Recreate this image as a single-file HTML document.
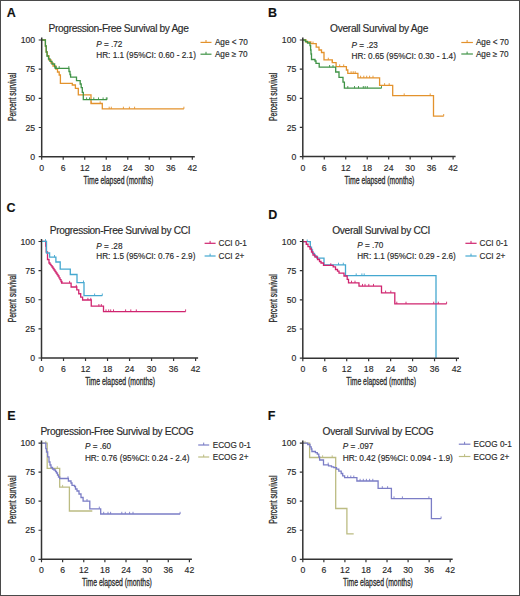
<!DOCTYPE html><html><head><meta charset="utf-8"><style>html,body{margin:0;padding:0;background:#fff;}svg{display:block;}</style></head><body>
<svg width="520" height="596" viewBox="0 0 520 596" font-family='"Liberation Sans", sans-serif'>
<style>text{stroke:#2a2a2a;stroke-width:0.15px;}</style><rect x="0" y="0" width="520" height="596" fill="#fff"/>
<rect x="0.5" y="0.5" width="519" height="595" fill="none" stroke="#4a4a4a" stroke-width="1"/>
<g><text x="6.7" y="17" font-size="12.5" font-weight="bold" fill="#111">A</text><text x="48.6" y="31.9" font-size="10.2" fill="#2a2a2a" textLength="140.2" lengthAdjust="spacing">Progression-Free Survival by Age</text><text x="96.2" y="46.9" font-size="8.2" fill="#2a2a2a"><tspan font-style="italic">P</tspan> = .72</text><text x="96.2" y="58.1" font-size="8.2" fill="#2a2a2a" textLength="99.7" lengthAdjust="spacingAndGlyphs">HR: 1.1 (95%CI: 0.60 - 2.1)</text><line x1="200.5" y1="42.4" x2="211.5" y2="42.4" stroke="#e3922c" stroke-width="1.2"/><line x1="206" y1="40" x2="206" y2="42.4" stroke="#e3922c" stroke-width="1"/><text x="214.9" y="44.8" font-size="8.2" fill="#2a2a2a">Age &lt; 70</text><line x1="200.5" y1="54.2" x2="211.5" y2="54.2" stroke="#3f9346" stroke-width="1.2"/><line x1="206" y1="51.8" x2="206" y2="54.2" stroke="#3f9346" stroke-width="1"/><text x="214.9" y="56.9" font-size="8.2" fill="#2a2a2a">Age &#8805; 70</text><path d="M41.7 40H45.4V46H46.2V52H47.3V56H49V60H51V63H53V66H55.8V69.2H57.5V72H59.2V75H60.4V83.3H72.3V85H75.4V88.3H78.3V94.8H91V103.5H102.3V108.9H183.9" fill="none" stroke="#e3922c" stroke-width="1.3" stroke-linejoin="miter" stroke-linecap="butt"/><line x1="91.3" y1="101.3" x2="91.3" y2="103.5" stroke="#e3922c" stroke-width="0.9"/><line x1="100.2" y1="101.3" x2="100.2" y2="103.5" stroke="#e3922c" stroke-width="0.9"/><line x1="109.2" y1="106.7" x2="109.2" y2="108.9" stroke="#e3922c" stroke-width="0.9"/><line x1="111.3" y1="106.7" x2="111.3" y2="108.9" stroke="#e3922c" stroke-width="0.9"/><line x1="123.4" y1="106.7" x2="123.4" y2="108.9" stroke="#e3922c" stroke-width="0.9"/><line x1="129.4" y1="106.7" x2="129.4" y2="108.9" stroke="#e3922c" stroke-width="0.9"/><line x1="134.6" y1="106.7" x2="134.6" y2="108.9" stroke="#e3922c" stroke-width="0.9"/><line x1="183.9" y1="106.7" x2="183.9" y2="108.9" stroke="#e3922c" stroke-width="0.9"/><path d="M41.7 40H45.4V46H46.2V52H47V56H48.5V59H50V61.4H52V64H54.6V66.8H55.2V68.3H69V71.5H70V74.5H70.6V77.1H76.5V80.6H80.2V84H81.2V87.7H82.3V92.3H83.3V99.6H107.1" fill="none" stroke="#3f9346" stroke-width="1.3" stroke-linejoin="miter" stroke-linecap="butt"/><line x1="56.3" y1="66.1" x2="56.3" y2="68.3" stroke="#3f9346" stroke-width="0.9"/><line x1="59.2" y1="66.1" x2="59.2" y2="68.3" stroke="#3f9346" stroke-width="0.9"/><line x1="68.8" y1="66.1" x2="68.8" y2="68.3" stroke="#3f9346" stroke-width="0.9"/><line x1="86.6" y1="97.4" x2="86.6" y2="99.6" stroke="#3f9346" stroke-width="0.9"/><line x1="89.5" y1="97.4" x2="89.5" y2="99.6" stroke="#3f9346" stroke-width="0.9"/><line x1="93.8" y1="97.4" x2="93.8" y2="99.6" stroke="#3f9346" stroke-width="0.9"/><line x1="98.5" y1="97.4" x2="98.5" y2="99.6" stroke="#3f9346" stroke-width="0.9"/><line x1="103.1" y1="97.4" x2="103.1" y2="99.6" stroke="#3f9346" stroke-width="0.9"/><line x1="106.3" y1="97.4" x2="106.3" y2="99.6" stroke="#3f9346" stroke-width="0.9"/><line x1="107.1" y1="97.4" x2="107.1" y2="99.6" stroke="#3f9346" stroke-width="0.9"/><path d="M41.7 37.5V156.7H194.8" fill="none" stroke="#333" stroke-width="1.5"/><path d="M38.7 156.7H41.7M38.7 127.52H41.7M38.7 98.35H41.7M38.7 69.17H41.7M38.7 40H41.7M41.7 156.7V159.7M63.21 156.7V159.7M84.73 156.7V159.7M106.24 156.7V159.7M127.76 156.7V159.7M149.27 156.7V159.7M170.79 156.7V159.7M192.3 156.7V159.7" stroke="#333" stroke-width="1.2" fill="none"/><text x="35.2" y="159.8" font-size="8.7" fill="#2a2a2a" text-anchor="end">0</text><text x="35.2" y="130.62" font-size="8.7" fill="#2a2a2a" text-anchor="end">25</text><text x="35.2" y="101.45" font-size="8.7" fill="#2a2a2a" text-anchor="end">50</text><text x="35.2" y="72.27" font-size="8.7" fill="#2a2a2a" text-anchor="end">75</text><text x="35.2" y="43.1" font-size="8.7" fill="#2a2a2a" text-anchor="end">100</text><text x="41.7" y="170.6" font-size="8.7" fill="#2a2a2a" text-anchor="middle">0</text><text x="63.21" y="170.6" font-size="8.7" fill="#2a2a2a" text-anchor="middle">6</text><text x="84.73" y="170.6" font-size="8.7" fill="#2a2a2a" text-anchor="middle">12</text><text x="106.24" y="170.6" font-size="8.7" fill="#2a2a2a" text-anchor="middle">18</text><text x="127.76" y="170.6" font-size="8.7" fill="#2a2a2a" text-anchor="middle">24</text><text x="149.27" y="170.6" font-size="8.7" fill="#2a2a2a" text-anchor="middle">30</text><text x="170.79" y="170.6" font-size="8.7" fill="#2a2a2a" text-anchor="middle">36</text><text x="192.3" y="170.6" font-size="8.7" fill="#2a2a2a" text-anchor="middle">42</text><text x="118.5" y="183.8" font-size="10.2" fill="#2a2a2a" style="stroke-width:0.3px" text-anchor="middle" textLength="69.8" lengthAdjust="spacingAndGlyphs">Time elapsed (months)</text><text transform="translate(15.7 96.85) rotate(-90)" x="0" y="0" font-size="10.2" fill="#2a2a2a" style="stroke-width:0.3px" text-anchor="middle" textLength="48.2" lengthAdjust="spacingAndGlyphs">Percent survival</text></g>
<g><text x="268.1" y="17" font-size="12.5" font-weight="bold" fill="#111">B</text><text x="330.1" y="32.3" font-size="10.2" fill="#2a2a2a" textLength="98.2" lengthAdjust="spacing">Overall Survival by Age</text><text x="351.6" y="47.5" font-size="8.2" fill="#2a2a2a"><tspan font-style="italic">P</tspan> = .23</text><text x="351.6" y="58.7" font-size="8.2" fill="#2a2a2a" textLength="104.3" lengthAdjust="spacingAndGlyphs">HR: 0.65 (95%CI: 0.30 - 1.4)</text><line x1="461.3" y1="42.5" x2="472.9" y2="42.5" stroke="#e3922c" stroke-width="1.2"/><line x1="467.1" y1="40.1" x2="467.1" y2="42.5" stroke="#e3922c" stroke-width="1"/><text x="475.9" y="45.4" font-size="8.2" fill="#2a2a2a">Age &lt; 70</text><line x1="461.3" y1="54" x2="472.9" y2="54" stroke="#3f9346" stroke-width="1.2"/><line x1="467.1" y1="51.6" x2="467.1" y2="54" stroke="#3f9346" stroke-width="1"/><text x="475.9" y="56.9" font-size="8.2" fill="#2a2a2a">Age &#8805; 70</text><path d="M302.8 40H306V42H310.8V43.7H316.2V47.1H319V50H321.5V52.5H324V59.9H332.3V62.6H336.1V66.6H346.4V70H347.8V73.4H357.9V77.9H379.6V85.4H392.7V95.6H433.5V116.2H443.7" fill="none" stroke="#e3922c" stroke-width="1.3" stroke-linejoin="miter" stroke-linecap="butt"/><line x1="313" y1="41.5" x2="313" y2="43.7" stroke="#e3922c" stroke-width="0.9"/><line x1="328.3" y1="57.7" x2="328.3" y2="59.9" stroke="#e3922c" stroke-width="0.9"/><line x1="332.3" y1="60.4" x2="332.3" y2="62.6" stroke="#e3922c" stroke-width="0.9"/><line x1="339.7" y1="64.4" x2="339.7" y2="66.6" stroke="#e3922c" stroke-width="0.9"/><line x1="343.7" y1="64.4" x2="343.7" y2="66.6" stroke="#e3922c" stroke-width="0.9"/><line x1="351.1" y1="71.2" x2="351.1" y2="73.4" stroke="#e3922c" stroke-width="0.9"/><line x1="353.2" y1="71.2" x2="353.2" y2="73.4" stroke="#e3922c" stroke-width="0.9"/><line x1="355.2" y1="71.2" x2="355.2" y2="73.4" stroke="#e3922c" stroke-width="0.9"/><line x1="360.6" y1="75.7" x2="360.6" y2="77.9" stroke="#e3922c" stroke-width="0.9"/><line x1="363.8" y1="75.7" x2="363.8" y2="77.9" stroke="#e3922c" stroke-width="0.9"/><line x1="366.7" y1="75.7" x2="366.7" y2="77.9" stroke="#e3922c" stroke-width="0.9"/><line x1="369.6" y1="75.7" x2="369.6" y2="77.9" stroke="#e3922c" stroke-width="0.9"/><line x1="373" y1="75.7" x2="373" y2="77.9" stroke="#e3922c" stroke-width="0.9"/><line x1="384.6" y1="83.2" x2="384.6" y2="85.4" stroke="#e3922c" stroke-width="0.9"/><line x1="389.2" y1="83.2" x2="389.2" y2="85.4" stroke="#e3922c" stroke-width="0.9"/><line x1="404.2" y1="93.4" x2="404.2" y2="95.6" stroke="#e3922c" stroke-width="0.9"/><line x1="430.2" y1="93.4" x2="430.2" y2="95.6" stroke="#e3922c" stroke-width="0.9"/><line x1="443.7" y1="114" x2="443.7" y2="116.2" stroke="#e3922c" stroke-width="0.9"/><path d="M302.8 40H305.4V41.5H307.5V43H310V45.6H310.6V50H311V54H311.5V59.5H315V61H316V63.3H319.2V67.2H335.7V72H339V77.4H343V82.1H344.4V88.2H381.5" fill="none" stroke="#3f9346" stroke-width="1.3" stroke-linejoin="miter" stroke-linecap="butt"/><line x1="329.6" y1="65" x2="329.6" y2="67.2" stroke="#3f9346" stroke-width="0.9"/><line x1="333" y1="65" x2="333" y2="67.2" stroke="#3f9346" stroke-width="0.9"/><line x1="347.8" y1="86" x2="347.8" y2="88.2" stroke="#3f9346" stroke-width="0.9"/><line x1="354.5" y1="86" x2="354.5" y2="88.2" stroke="#3f9346" stroke-width="0.9"/><line x1="358.5" y1="86" x2="358.5" y2="88.2" stroke="#3f9346" stroke-width="0.9"/><line x1="363.3" y1="86" x2="363.3" y2="88.2" stroke="#3f9346" stroke-width="0.9"/><line x1="365.2" y1="86" x2="365.2" y2="88.2" stroke="#3f9346" stroke-width="0.9"/><line x1="367.3" y1="86" x2="367.3" y2="88.2" stroke="#3f9346" stroke-width="0.9"/><line x1="381.5" y1="86" x2="381.5" y2="88.2" stroke="#3f9346" stroke-width="0.9"/><path d="M302.8 37.5V156.6H455.6" fill="none" stroke="#333" stroke-width="1.5"/><path d="M299.8 156.6H302.8M299.8 127.45H302.8M299.8 98.3H302.8M299.8 69.15H302.8M299.8 40H302.8M302.8 156.6V159.6M324.27 156.6V159.6M345.74 156.6V159.6M367.21 156.6V159.6M388.69 156.6V159.6M410.16 156.6V159.6M431.63 156.6V159.6M453.1 156.6V159.6" stroke="#333" stroke-width="1.2" fill="none"/><text x="296.3" y="159.7" font-size="8.7" fill="#2a2a2a" text-anchor="end">0</text><text x="296.3" y="130.55" font-size="8.7" fill="#2a2a2a" text-anchor="end">25</text><text x="296.3" y="101.4" font-size="8.7" fill="#2a2a2a" text-anchor="end">50</text><text x="296.3" y="72.25" font-size="8.7" fill="#2a2a2a" text-anchor="end">75</text><text x="296.3" y="43.1" font-size="8.7" fill="#2a2a2a" text-anchor="end">100</text><text x="302.8" y="170.5" font-size="8.7" fill="#2a2a2a" text-anchor="middle">0</text><text x="324.27" y="170.5" font-size="8.7" fill="#2a2a2a" text-anchor="middle">6</text><text x="345.74" y="170.5" font-size="8.7" fill="#2a2a2a" text-anchor="middle">12</text><text x="367.21" y="170.5" font-size="8.7" fill="#2a2a2a" text-anchor="middle">18</text><text x="388.69" y="170.5" font-size="8.7" fill="#2a2a2a" text-anchor="middle">24</text><text x="410.16" y="170.5" font-size="8.7" fill="#2a2a2a" text-anchor="middle">30</text><text x="431.63" y="170.5" font-size="8.7" fill="#2a2a2a" text-anchor="middle">36</text><text x="453.1" y="170.5" font-size="8.7" fill="#2a2a2a" text-anchor="middle">42</text><text x="379.45" y="183.7" font-size="10.2" fill="#2a2a2a" style="stroke-width:0.3px" text-anchor="middle" textLength="69.8" lengthAdjust="spacingAndGlyphs">Time elapsed (months)</text><text transform="translate(276.8 96.8) rotate(-90)" x="0" y="0" font-size="10.2" fill="#2a2a2a" style="stroke-width:0.3px" text-anchor="middle" textLength="48.2" lengthAdjust="spacingAndGlyphs">Percent survival</text></g>
<g><text x="6.6" y="212.3" font-size="12.5" font-weight="bold" fill="#111">C</text><text x="49.7" y="233.5" font-size="10.2" fill="#2a2a2a" textLength="140.8" lengthAdjust="spacing">Progression-Free Survival by CCI</text><text x="96.3" y="248.5" font-size="8.2" fill="#2a2a2a"><tspan font-style="italic">P</tspan> = .28</text><text x="96.3" y="258.8" font-size="8.2" fill="#2a2a2a" textLength="99.1" lengthAdjust="spacingAndGlyphs">HR: 1.5 (95%CI: 0.76 - 2.9)</text><line x1="204.6" y1="243.3" x2="215.6" y2="243.3" stroke="#d0246f" stroke-width="1.2"/><line x1="210.1" y1="240.9" x2="210.1" y2="243.3" stroke="#d0246f" stroke-width="1"/><text x="218.5" y="246.4" font-size="8.2" fill="#2a2a2a">CCI 0-1</text><line x1="204.6" y1="256" x2="215.6" y2="256" stroke="#45a8d0" stroke-width="1.2"/><line x1="210.1" y1="253.6" x2="210.1" y2="256" stroke="#45a8d0" stroke-width="1"/><text x="218.5" y="259.1" font-size="8.2" fill="#2a2a2a">CCI 2+</text><path d="M41.5 241.4H45.8V246H46.2V252H47.5V259.5H49V263H50V264.33H51V265.67H52V267H53V268.5H54V270H55V271.5H56V273H57V274.5H58V276H59V277.83H60V279.67H61V281.5H61.6V283.1H71.1V287H76.8V289.9H78.75V293.75H80.7V297.1H82.6V300H91.25V306.2H103.5V311.6H185.6" fill="none" stroke="#d0246f" stroke-width="1.3" stroke-linejoin="miter" stroke-linecap="butt"/><line x1="62" y1="280.9" x2="62" y2="283.1" stroke="#d0246f" stroke-width="0.9"/><line x1="69.6" y1="280.9" x2="69.6" y2="283.1" stroke="#d0246f" stroke-width="0.9"/><line x1="76.3" y1="284.8" x2="76.3" y2="287" stroke="#d0246f" stroke-width="0.9"/><line x1="87.9" y1="297.8" x2="87.9" y2="300" stroke="#d0246f" stroke-width="0.9"/><line x1="90.8" y1="297.8" x2="90.8" y2="300" stroke="#d0246f" stroke-width="0.9"/><line x1="98.9" y1="304" x2="98.9" y2="306.2" stroke="#d0246f" stroke-width="0.9"/><line x1="101.3" y1="304" x2="101.3" y2="306.2" stroke="#d0246f" stroke-width="0.9"/><line x1="106" y1="309.4" x2="106" y2="311.6" stroke="#d0246f" stroke-width="0.9"/><line x1="108.7" y1="309.4" x2="108.7" y2="311.6" stroke="#d0246f" stroke-width="0.9"/><line x1="110.7" y1="309.4" x2="110.7" y2="311.6" stroke="#d0246f" stroke-width="0.9"/><line x1="113.5" y1="309.4" x2="113.5" y2="311.6" stroke="#d0246f" stroke-width="0.9"/><line x1="125.6" y1="309.4" x2="125.6" y2="311.6" stroke="#d0246f" stroke-width="0.9"/><line x1="130.8" y1="309.4" x2="130.8" y2="311.6" stroke="#d0246f" stroke-width="0.9"/><line x1="136.3" y1="309.4" x2="136.3" y2="311.6" stroke="#d0246f" stroke-width="0.9"/><line x1="185.6" y1="309.4" x2="185.6" y2="311.6" stroke="#d0246f" stroke-width="0.9"/><path d="M41.5 241.3H46.5V253H49.6V257.2H55.9V262H60.2V269.2H70.3V274.5H77V282.7H84V295.7H102.3" fill="none" stroke="#45a8d0" stroke-width="1.3" stroke-linejoin="miter" stroke-linecap="butt"/><line x1="45.5" y1="239.1" x2="45.5" y2="241.3" stroke="#45a8d0" stroke-width="0.9"/><line x1="54.5" y1="255" x2="54.5" y2="257.2" stroke="#45a8d0" stroke-width="0.9"/><line x1="83.5" y1="280.5" x2="83.5" y2="282.7" stroke="#45a8d0" stroke-width="0.9"/><line x1="94.6" y1="293.5" x2="94.6" y2="295.7" stroke="#45a8d0" stroke-width="0.9"/><line x1="102.3" y1="293.5" x2="102.3" y2="295.7" stroke="#45a8d0" stroke-width="0.9"/><path d="M41.5 239V358H198.1" fill="none" stroke="#333" stroke-width="1.5"/><path d="M38.5 358H41.5M38.5 328.88H41.5M38.5 299.75H41.5M38.5 270.62H41.5M38.5 241.5H41.5M41.5 358V361M63.51 358V361M85.53 358V361M107.54 358V361M129.56 358V361M151.57 358V361M173.59 358V361M195.6 358V361" stroke="#333" stroke-width="1.2" fill="none"/><text x="35" y="361.1" font-size="8.7" fill="#2a2a2a" text-anchor="end">0</text><text x="35" y="331.98" font-size="8.7" fill="#2a2a2a" text-anchor="end">25</text><text x="35" y="302.85" font-size="8.7" fill="#2a2a2a" text-anchor="end">50</text><text x="35" y="273.73" font-size="8.7" fill="#2a2a2a" text-anchor="end">75</text><text x="35" y="244.6" font-size="8.7" fill="#2a2a2a" text-anchor="end">100</text><text x="41.5" y="371.9" font-size="8.7" fill="#2a2a2a" text-anchor="middle">0</text><text x="63.51" y="371.9" font-size="8.7" fill="#2a2a2a" text-anchor="middle">6</text><text x="85.53" y="371.9" font-size="8.7" fill="#2a2a2a" text-anchor="middle">12</text><text x="107.54" y="371.9" font-size="8.7" fill="#2a2a2a" text-anchor="middle">18</text><text x="129.56" y="371.9" font-size="8.7" fill="#2a2a2a" text-anchor="middle">24</text><text x="151.57" y="371.9" font-size="8.7" fill="#2a2a2a" text-anchor="middle">30</text><text x="173.59" y="371.9" font-size="8.7" fill="#2a2a2a" text-anchor="middle">36</text><text x="195.6" y="371.9" font-size="8.7" fill="#2a2a2a" text-anchor="middle">42</text><text x="120.05" y="385.1" font-size="10.2" fill="#2a2a2a" style="stroke-width:0.3px" text-anchor="middle" textLength="69.8" lengthAdjust="spacingAndGlyphs">Time elapsed (months)</text><text transform="translate(15.5 298.25) rotate(-90)" x="0" y="0" font-size="10.2" fill="#2a2a2a" style="stroke-width:0.3px" text-anchor="middle" textLength="48.2" lengthAdjust="spacingAndGlyphs">Percent survival</text></g>
<g><text x="268.3" y="218.7" font-size="12.5" font-weight="bold" fill="#111">D</text><text x="332.2" y="233.8" font-size="10.2" fill="#2a2a2a" textLength="98.2" lengthAdjust="spacing">Overall Survival by CCI</text><text x="357.2" y="247.9" font-size="8.2" fill="#2a2a2a"><tspan font-style="italic">P</tspan> = .70</text><text x="357.2" y="259.4" font-size="8.2" fill="#2a2a2a" textLength="98.6" lengthAdjust="spacingAndGlyphs">HR: 1.1 (95%CI: 0.29 - 2.6)</text><line x1="465.4" y1="243.3" x2="476.6" y2="243.3" stroke="#d0246f" stroke-width="1.2"/><line x1="471" y1="240.9" x2="471" y2="243.3" stroke="#d0246f" stroke-width="1"/><text x="479.5" y="246.4" font-size="8.2" fill="#2a2a2a">CCI 0-1</text><line x1="465.4" y1="256" x2="476.6" y2="256" stroke="#45a8d0" stroke-width="1.2"/><line x1="471" y1="253.6" x2="471" y2="256" stroke="#45a8d0" stroke-width="1"/><text x="479.5" y="259.1" font-size="8.2" fill="#2a2a2a">CCI 2+</text><path d="M302.8 241.7H310.3V247.1H311.5V250H312.5V253.4H314.5V256H316.8V258.2H324V264.9H345.5V275.6H436V358.2H436" fill="none" stroke="#45a8d0" stroke-width="1.3" stroke-linejoin="miter" stroke-linecap="butt"/><line x1="307.2" y1="239.5" x2="307.2" y2="241.7" stroke="#45a8d0" stroke-width="0.9"/><line x1="338.5" y1="262.7" x2="338.5" y2="264.9" stroke="#45a8d0" stroke-width="0.9"/><line x1="343.3" y1="262.7" x2="343.3" y2="264.9" stroke="#45a8d0" stroke-width="0.9"/><line x1="356.2" y1="273.4" x2="356.2" y2="275.6" stroke="#45a8d0" stroke-width="0.9"/><line x1="361.9" y1="273.4" x2="361.9" y2="275.6" stroke="#45a8d0" stroke-width="0.9"/><line x1="364.2" y1="273.4" x2="364.2" y2="275.6" stroke="#45a8d0" stroke-width="0.9"/><path d="M302.8 241.7H306.25V244.25H308V246.65H310V249H311.5V252H313V255H315V257H317.5V259.5H319.5V261.5H321V263H323.5V265.4H333.2V266.8H335.5V269.5H337.5V271.2H339V273.1H344V276H347.2V279.4H348.5V282.9H359V286.1H381.5V292.8H394.8V303.9H446.6" fill="none" stroke="#d0246f" stroke-width="1.3" stroke-linejoin="miter" stroke-linecap="butt"/><line x1="330.8" y1="263.2" x2="330.8" y2="265.4" stroke="#d0246f" stroke-width="0.9"/><line x1="351.5" y1="280.7" x2="351.5" y2="282.9" stroke="#d0246f" stroke-width="0.9"/><line x1="355" y1="280.7" x2="355" y2="282.9" stroke="#d0246f" stroke-width="0.9"/><line x1="362.5" y1="283.9" x2="362.5" y2="286.1" stroke="#d0246f" stroke-width="0.9"/><line x1="365" y1="283.9" x2="365" y2="286.1" stroke="#d0246f" stroke-width="0.9"/><line x1="368.8" y1="283.9" x2="368.8" y2="286.1" stroke="#d0246f" stroke-width="0.9"/><line x1="373.5" y1="283.9" x2="373.5" y2="286.1" stroke="#d0246f" stroke-width="0.9"/><line x1="385.6" y1="290.6" x2="385.6" y2="292.8" stroke="#d0246f" stroke-width="0.9"/><line x1="390.8" y1="290.6" x2="390.8" y2="292.8" stroke="#d0246f" stroke-width="0.9"/><line x1="396.8" y1="301.7" x2="396.8" y2="303.9" stroke="#d0246f" stroke-width="0.9"/><line x1="406" y1="301.7" x2="406" y2="303.9" stroke="#d0246f" stroke-width="0.9"/><line x1="433.7" y1="301.7" x2="433.7" y2="303.9" stroke="#d0246f" stroke-width="0.9"/><line x1="438.3" y1="301.7" x2="438.3" y2="303.9" stroke="#d0246f" stroke-width="0.9"/><line x1="446.6" y1="301.7" x2="446.6" y2="303.9" stroke="#d0246f" stroke-width="0.9"/><path d="M302.8 239V358.2H459" fill="none" stroke="#333" stroke-width="1.5"/><path d="M299.8 358.2H302.8M299.8 329.02H302.8M299.8 299.85H302.8M299.8 270.68H302.8M299.8 241.5H302.8M302.8 358.2V361.2M324.76 358.2V361.2M346.71 358.2V361.2M368.67 358.2V361.2M390.63 358.2V361.2M412.59 358.2V361.2M434.54 358.2V361.2M456.5 358.2V361.2" stroke="#333" stroke-width="1.2" fill="none"/><text x="296.3" y="361.3" font-size="8.7" fill="#2a2a2a" text-anchor="end">0</text><text x="296.3" y="332.12" font-size="8.7" fill="#2a2a2a" text-anchor="end">25</text><text x="296.3" y="302.95" font-size="8.7" fill="#2a2a2a" text-anchor="end">50</text><text x="296.3" y="273.78" font-size="8.7" fill="#2a2a2a" text-anchor="end">75</text><text x="296.3" y="244.6" font-size="8.7" fill="#2a2a2a" text-anchor="end">100</text><text x="302.8" y="372.1" font-size="8.7" fill="#2a2a2a" text-anchor="middle">0</text><text x="324.76" y="372.1" font-size="8.7" fill="#2a2a2a" text-anchor="middle">6</text><text x="346.71" y="372.1" font-size="8.7" fill="#2a2a2a" text-anchor="middle">12</text><text x="368.67" y="372.1" font-size="8.7" fill="#2a2a2a" text-anchor="middle">18</text><text x="390.63" y="372.1" font-size="8.7" fill="#2a2a2a" text-anchor="middle">24</text><text x="412.59" y="372.1" font-size="8.7" fill="#2a2a2a" text-anchor="middle">30</text><text x="434.54" y="372.1" font-size="8.7" fill="#2a2a2a" text-anchor="middle">36</text><text x="456.5" y="372.1" font-size="8.7" fill="#2a2a2a" text-anchor="middle">42</text><text x="381.15" y="385.3" font-size="10.2" fill="#2a2a2a" style="stroke-width:0.3px" text-anchor="middle" textLength="69.8" lengthAdjust="spacingAndGlyphs">Time elapsed (months)</text><text transform="translate(276.8 298.35) rotate(-90)" x="0" y="0" font-size="10.2" fill="#2a2a2a" style="stroke-width:0.3px" text-anchor="middle" textLength="48.2" lengthAdjust="spacingAndGlyphs">Percent survival</text></g>
<g><text x="7.2" y="419.9" font-size="12.5" font-weight="bold" fill="#111">E</text><text x="40.4" y="434.7" font-size="10.2" fill="#2a2a2a" textLength="153.3" lengthAdjust="spacing">Progression-Free Survival by ECOG</text><text x="84.9" y="449.4" font-size="8.2" fill="#2a2a2a"><tspan font-style="italic">P</tspan> = .60</text><text x="84.9" y="460.7" font-size="8.2" fill="#2a2a2a" textLength="104.5" lengthAdjust="spacingAndGlyphs">HR: 0.76 (95%CI: 0.24 - 2.4)</text><line x1="198.2" y1="445" x2="209.2" y2="445" stroke="#7b7dc6" stroke-width="1.2"/><line x1="203.7" y1="442.6" x2="203.7" y2="445" stroke="#7b7dc6" stroke-width="1"/><text x="212.7" y="447.9" font-size="8.2" fill="#2a2a2a">ECOG 0-1</text><line x1="198.2" y1="457" x2="209.2" y2="457" stroke="#bcbc82" stroke-width="1.2"/><line x1="203.7" y1="454.6" x2="203.7" y2="457" stroke="#bcbc82" stroke-width="1"/><text x="212.7" y="459.8" font-size="8.2" fill="#2a2a2a">ECOG 2+</text><path d="M41.5 443.1H47.2V468.4H59.7V487.1H69.4V511H92.3" fill="none" stroke="#bcbc82" stroke-width="1.3" stroke-linejoin="miter" stroke-linecap="butt"/><line x1="45.8" y1="440.9" x2="45.8" y2="443.1" stroke="#bcbc82" stroke-width="0.9"/><line x1="57.3" y1="466.2" x2="57.3" y2="468.4" stroke="#bcbc82" stroke-width="0.9"/><line x1="62.6" y1="484.9" x2="62.6" y2="487.1" stroke="#bcbc82" stroke-width="0.9"/><path d="M41.5 443.1H45.8V448.7H46.5V452H47.7V456.8H49V462H50V465H51V467.5H52.5V469H54V470H55.5V471.5H56.5V473H57.5V475H58.5V477H59.7V478.5H68.4V481H71V483H72V485.3H74.5V486.5H75.5V489H77V491H79V494H81V497.5H83.1V501.2H89.8V508.8H100.7V514H180.1" fill="none" stroke="#7b7dc6" stroke-width="1.3" stroke-linejoin="miter" stroke-linecap="butt"/><line x1="68" y1="476.3" x2="68" y2="478.5" stroke="#7b7dc6" stroke-width="0.9"/><line x1="87" y1="499" x2="87" y2="501.2" stroke="#7b7dc6" stroke-width="0.9"/><line x1="99.3" y1="506.6" x2="99.3" y2="508.8" stroke="#7b7dc6" stroke-width="0.9"/><line x1="103.7" y1="511.8" x2="103.7" y2="514" stroke="#7b7dc6" stroke-width="0.9"/><line x1="108" y1="511.8" x2="108" y2="514" stroke="#7b7dc6" stroke-width="0.9"/><line x1="110.6" y1="511.8" x2="110.6" y2="514" stroke="#7b7dc6" stroke-width="0.9"/><line x1="121.8" y1="511.8" x2="121.8" y2="514" stroke="#7b7dc6" stroke-width="0.9"/><line x1="125.3" y1="511.8" x2="125.3" y2="514" stroke="#7b7dc6" stroke-width="0.9"/><line x1="129.6" y1="511.8" x2="129.6" y2="514" stroke="#7b7dc6" stroke-width="0.9"/><line x1="133" y1="511.8" x2="133" y2="514" stroke="#7b7dc6" stroke-width="0.9"/><line x1="180.1" y1="511.8" x2="180.1" y2="514" stroke="#7b7dc6" stroke-width="0.9"/><path d="M41.5 440.6V559.3H191.9" fill="none" stroke="#333" stroke-width="1.5"/><path d="M38.5 559.3H41.5M38.5 530.25H41.5M38.5 501.2H41.5M38.5 472.15H41.5M38.5 443.1H41.5M41.5 559.3V562.3M62.63 559.3V562.3M83.76 559.3V562.3M104.89 559.3V562.3M126.01 559.3V562.3M147.14 559.3V562.3M168.27 559.3V562.3M189.4 559.3V562.3" stroke="#333" stroke-width="1.2" fill="none"/><text x="35" y="562.4" font-size="8.7" fill="#2a2a2a" text-anchor="end">0</text><text x="35" y="533.35" font-size="8.7" fill="#2a2a2a" text-anchor="end">25</text><text x="35" y="504.3" font-size="8.7" fill="#2a2a2a" text-anchor="end">50</text><text x="35" y="475.25" font-size="8.7" fill="#2a2a2a" text-anchor="end">75</text><text x="35" y="446.2" font-size="8.7" fill="#2a2a2a" text-anchor="end">100</text><text x="41.5" y="573.2" font-size="8.7" fill="#2a2a2a" text-anchor="middle">0</text><text x="62.63" y="573.2" font-size="8.7" fill="#2a2a2a" text-anchor="middle">6</text><text x="83.76" y="573.2" font-size="8.7" fill="#2a2a2a" text-anchor="middle">12</text><text x="104.89" y="573.2" font-size="8.7" fill="#2a2a2a" text-anchor="middle">18</text><text x="126.01" y="573.2" font-size="8.7" fill="#2a2a2a" text-anchor="middle">24</text><text x="147.14" y="573.2" font-size="8.7" fill="#2a2a2a" text-anchor="middle">30</text><text x="168.27" y="573.2" font-size="8.7" fill="#2a2a2a" text-anchor="middle">36</text><text x="189.4" y="573.2" font-size="8.7" fill="#2a2a2a" text-anchor="middle">42</text><text x="116.95" y="586.4" font-size="10.2" fill="#2a2a2a" style="stroke-width:0.3px" text-anchor="middle" textLength="69.8" lengthAdjust="spacingAndGlyphs">Time elapsed (months)</text><text transform="translate(15.5 499.7) rotate(-90)" x="0" y="0" font-size="10.2" fill="#2a2a2a" style="stroke-width:0.3px" text-anchor="middle" textLength="48.2" lengthAdjust="spacingAndGlyphs">Percent survival</text></g>
<g><text x="267.8" y="419.9" font-size="12.5" font-weight="bold" fill="#111">F</text><text x="322.5" y="434.7" font-size="10.2" fill="#2a2a2a" textLength="111.3" lengthAdjust="spacing">Overall Survival by ECOG</text><text x="342.7" y="449.4" font-size="8.2" fill="#2a2a2a"><tspan font-style="italic">P</tspan> = .097</text><text x="342.7" y="460.7" font-size="8.2" fill="#2a2a2a" textLength="110.2" lengthAdjust="spacingAndGlyphs">HR: 0.42 (95%CI: 0.094 - 1.9)</text><line x1="458.8" y1="444.2" x2="470.4" y2="444.2" stroke="#7b7dc6" stroke-width="1.2"/><line x1="464.6" y1="441.8" x2="464.6" y2="444.2" stroke="#7b7dc6" stroke-width="1"/><text x="473.5" y="447.4" font-size="8.2" fill="#2a2a2a">ECOG 0-1</text><line x1="458.8" y1="456.5" x2="470.4" y2="456.5" stroke="#bcbc82" stroke-width="1.2"/><line x1="464.6" y1="454.1" x2="464.6" y2="456.5" stroke="#bcbc82" stroke-width="1"/><text x="473.5" y="459.6" font-size="8.2" fill="#2a2a2a">ECOG 2+</text><path d="M302.8 443.1H309.6V457.5H335.7V508.5H346.9V533.8H353.7" fill="none" stroke="#bcbc82" stroke-width="1.3" stroke-linejoin="miter" stroke-linecap="butt"/><line x1="305" y1="440.9" x2="305" y2="443.1" stroke="#bcbc82" stroke-width="0.9"/><line x1="322.6" y1="455.3" x2="322.6" y2="457.5" stroke="#bcbc82" stroke-width="0.9"/><line x1="332.2" y1="455.3" x2="332.2" y2="457.5" stroke="#bcbc82" stroke-width="0.9"/><path d="M302.8 443.1H307.7V444.5H310V446.8H311.2V449H311.9V451.5H315.4V452.6H317.3V454.2H318.8V456.8H319.6V460H323.5V464.8H328.5V465.8H331.5V466.9H333.8V467.7H336.5V469.2H338.8V471.2H341.2V473.5H342.7V475.8H344.6V477.7H356.9V481H378.1V488.4H391.4V498.6H431.4V518.7H441.1" fill="none" stroke="#7b7dc6" stroke-width="1.3" stroke-linejoin="miter" stroke-linecap="butt"/><line x1="328.2" y1="462.6" x2="328.2" y2="464.8" stroke="#7b7dc6" stroke-width="0.9"/><line x1="347.7" y1="475.5" x2="347.7" y2="477.7" stroke="#7b7dc6" stroke-width="0.9"/><line x1="350.8" y1="475.5" x2="350.8" y2="477.7" stroke="#7b7dc6" stroke-width="0.9"/><line x1="353.8" y1="475.5" x2="353.8" y2="477.7" stroke="#7b7dc6" stroke-width="0.9"/><line x1="360.1" y1="478.8" x2="360.1" y2="481" stroke="#7b7dc6" stroke-width="0.9"/><line x1="363.3" y1="478.8" x2="363.3" y2="481" stroke="#7b7dc6" stroke-width="0.9"/><line x1="366.4" y1="478.8" x2="366.4" y2="481" stroke="#7b7dc6" stroke-width="0.9"/><line x1="369.6" y1="478.8" x2="369.6" y2="481" stroke="#7b7dc6" stroke-width="0.9"/><line x1="372.8" y1="478.8" x2="372.8" y2="481" stroke="#7b7dc6" stroke-width="0.9"/><line x1="382.3" y1="486.2" x2="382.3" y2="488.4" stroke="#7b7dc6" stroke-width="0.9"/><line x1="387.6" y1="486.2" x2="387.6" y2="488.4" stroke="#7b7dc6" stroke-width="0.9"/><line x1="394" y1="496.4" x2="394" y2="498.6" stroke="#7b7dc6" stroke-width="0.9"/><line x1="402.4" y1="496.4" x2="402.4" y2="498.6" stroke="#7b7dc6" stroke-width="0.9"/><line x1="428.9" y1="496.4" x2="428.9" y2="498.6" stroke="#7b7dc6" stroke-width="0.9"/><line x1="441.1" y1="516.5" x2="441.1" y2="518.7" stroke="#7b7dc6" stroke-width="0.9"/><path d="M302.8 440.6V559.3H452.7" fill="none" stroke="#333" stroke-width="1.5"/><path d="M299.8 559.3H302.8M299.8 530.25H302.8M299.8 501.2H302.8M299.8 472.15H302.8M299.8 443.1H302.8M302.8 559.3V562.3M323.86 559.3V562.3M344.91 559.3V562.3M365.97 559.3V562.3M387.03 559.3V562.3M408.09 559.3V562.3M429.14 559.3V562.3M450.2 559.3V562.3" stroke="#333" stroke-width="1.2" fill="none"/><text x="296.3" y="562.4" font-size="8.7" fill="#2a2a2a" text-anchor="end">0</text><text x="296.3" y="533.35" font-size="8.7" fill="#2a2a2a" text-anchor="end">25</text><text x="296.3" y="504.3" font-size="8.7" fill="#2a2a2a" text-anchor="end">50</text><text x="296.3" y="475.25" font-size="8.7" fill="#2a2a2a" text-anchor="end">75</text><text x="296.3" y="446.2" font-size="8.7" fill="#2a2a2a" text-anchor="end">100</text><text x="302.8" y="573.2" font-size="8.7" fill="#2a2a2a" text-anchor="middle">0</text><text x="323.86" y="573.2" font-size="8.7" fill="#2a2a2a" text-anchor="middle">6</text><text x="344.91" y="573.2" font-size="8.7" fill="#2a2a2a" text-anchor="middle">12</text><text x="365.97" y="573.2" font-size="8.7" fill="#2a2a2a" text-anchor="middle">18</text><text x="387.03" y="573.2" font-size="8.7" fill="#2a2a2a" text-anchor="middle">24</text><text x="408.09" y="573.2" font-size="8.7" fill="#2a2a2a" text-anchor="middle">30</text><text x="429.14" y="573.2" font-size="8.7" fill="#2a2a2a" text-anchor="middle">36</text><text x="450.2" y="573.2" font-size="8.7" fill="#2a2a2a" text-anchor="middle">42</text><text x="378" y="586.4" font-size="10.2" fill="#2a2a2a" style="stroke-width:0.3px" text-anchor="middle" textLength="69.8" lengthAdjust="spacingAndGlyphs">Time elapsed (months)</text><text transform="translate(276.8 499.7) rotate(-90)" x="0" y="0" font-size="10.2" fill="#2a2a2a" style="stroke-width:0.3px" text-anchor="middle" textLength="48.2" lengthAdjust="spacingAndGlyphs">Percent survival</text></g>
</svg></body></html>
